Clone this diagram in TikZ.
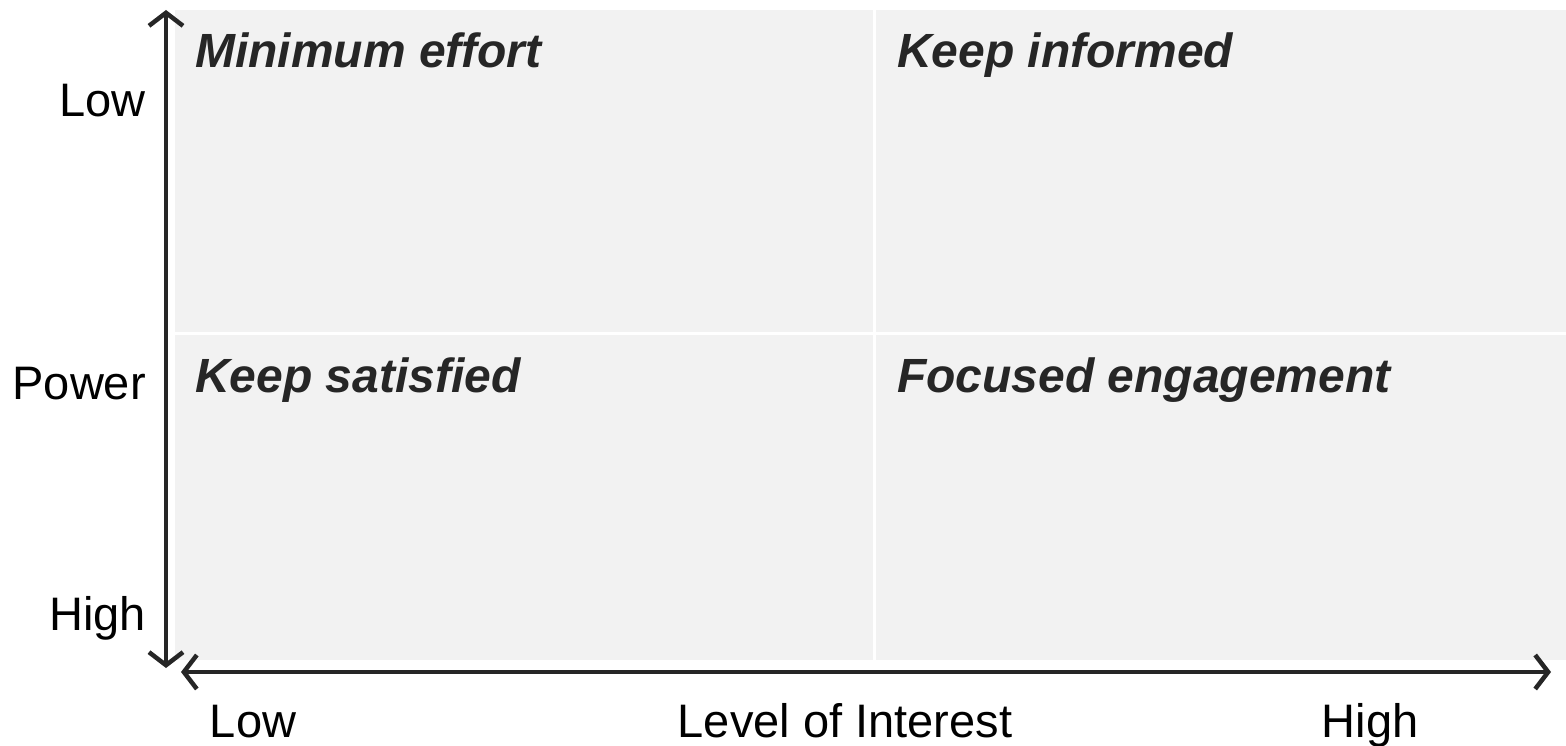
\documentclass[tikz,border=0pt]{standalone}
\usepackage{fontspec}
\setmainfont{Liberation Sans}
\usepackage{tikz}
\usetikzlibrary{arrows.meta,positioning}
\usepackage{xcolor}
\definecolor{gridgray}{RGB}{242,242,242}
\definecolor{inkgray}{RGB}{38,38,38}
\tikzstyle{cell} = [rectangle, anchor=north west, inner sep=0pt, fill=gridgray, draw=none]
\tikzstyle{quad} = [anchor=base west, inner sep=0pt, font=\fontsize{48}{50}\selectfont\bfseries\itshape, text=inkgray]
\tikzstyle{axislabel} = [anchor=base, inner sep=0pt, font=\fontsize{47}{50}\selectfont, text=black]
\tikzstyle{axis} = [line width=4.5pt, {Straight Barb[length=13pt,width=34pt]}-{Straight Barb[length=13pt,width=34pt]}, color=inkgray]

\begin{document}
\begin{tikzpicture}[x=1pt,y=1pt]
\useasboundingbox (0,0) rectangle (1566,745);
% Grid
\node (lowlow) [cell, minimum width=698pt, minimum height=322pt] at (175,735) {};
\node (lowhigh) [cell, minimum width=690pt, minimum height=322pt] at (876,735) {};
\node (highlow) [cell, minimum width=698pt, minimum height=325pt] at (175,410) {};
\node (highhigh) [cell, minimum width=690pt, minimum height=325pt] at (876,410) {};
% Quadrant texts
\node (minimum) [quad] at (195,677) {Minimum effort};
\node (informed) [quad] at (897,677) {Keep informed};
\node (satisfied) [quad] at (195,352) {Keep satisfied};
\node (focused) [quad] at (897,352) {Focused engagement};
% Axes
\coordinate (ytop) at (166,735);
\coordinate (ybot) at (166,77);
\coordinate (xleft) at (181,73);
\coordinate (xright) at (1551,73);
\draw [axis] (ybot) -- (ytop);
\draw [axis] (xleft) -- (xright);
% Axis labels
\node (plow) [axislabel, anchor=base east] at (146,628) {Low};
\node (power) [axislabel, anchor=base east] at (146,345) {Power};
\node (phigh) [axislabel, anchor=base east] at (146,115) {High};
\node (ilow) [axislabel] at (253,8) {Low};
\node (level) [axislabel] at (845,8) {Level of Interest};
\node (ihigh) [axislabel] at (1370,8) {High};
\end{tikzpicture}
\end{document}
